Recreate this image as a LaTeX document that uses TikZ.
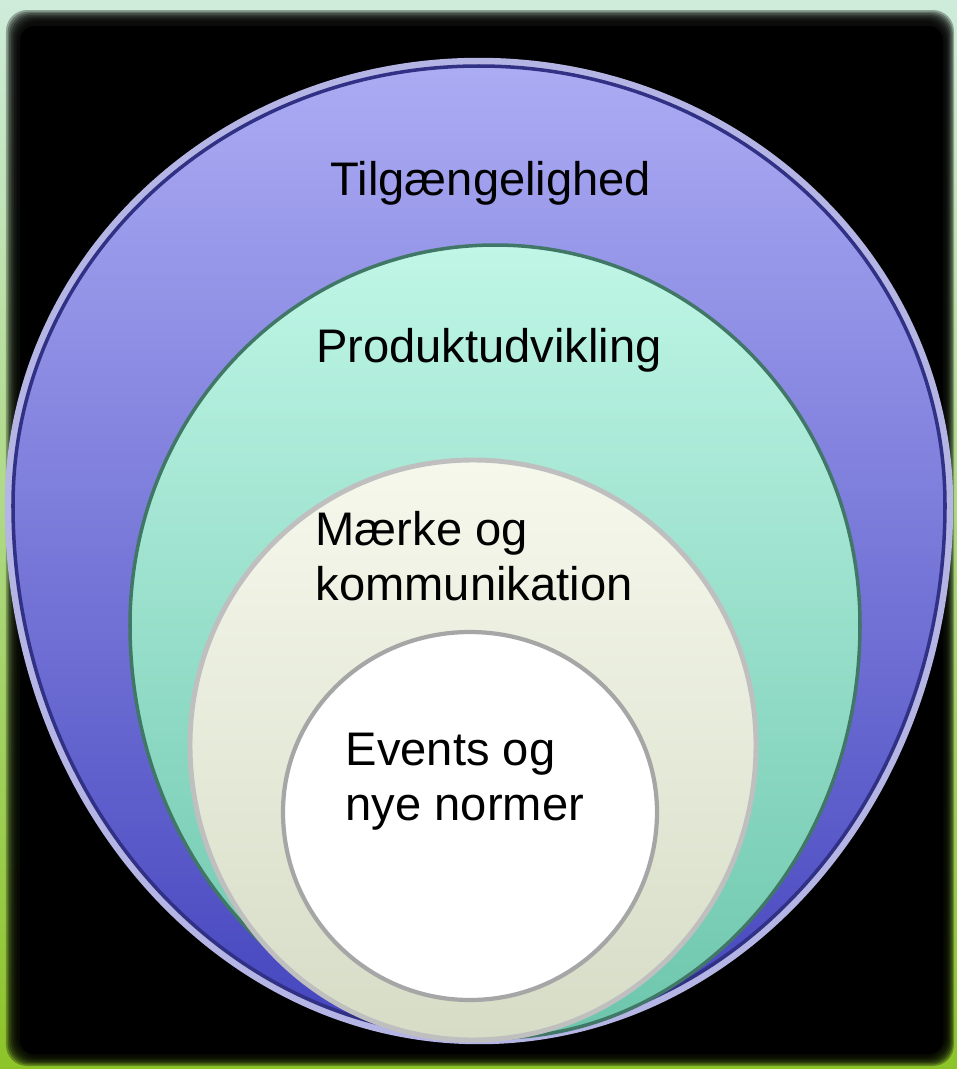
\documentclass[tikz,border=0pt]{standalone}
\usepackage{fontspec}
\setmainfont{Liberation Sans}
\definecolor{mintglow}{RGB}{206,236,218}
\definecolor{limeglow}{RGB}{140,196,40}
\definecolor{bluetop}{RGB}{172,172,244}
\definecolor{bluebot}{RGB}{68,68,190}
\definecolor{tealtop}{RGB}{192,246,230}
\definecolor{tealbot}{RGB}{108,198,172}
\definecolor{creamtop}{RGB}{246,248,236}
\definecolor{creambot}{RGB}{214,220,198}
% egg path: centre x, centre y, half width, top height, bottom height
\newcommand{\ringpath}[5]{(#1-#3,#2) arc[start angle=180, end angle=360, x radius=#3, y radius=#4]
  arc[start angle=0, end angle=180, x radius=#3, y radius=#5] -- cycle}
\begin{document}
\begin{tikzpicture}[x=0.01cm,y=-0.01cm,
  ringtext/.style={font=\fontsize{13.4}{15.6}\selectfont, align=left, inner sep=0pt}]
\useasboundingbox (0,0) rectangle (957,1069);
% frame
\shade[top color=mintglow, bottom color=limeglow] (0,0) rectangle (957,1069);
\foreach \i in {0,...,7}
  \fill[black, opacity=0.3, rounded corners=6] (6+1.6*\i,10+1.6*\i) rectangle (954-1.2*\i,1066-1.4*\i);
\fill[black, rounded corners=4] (20,26) rectangle (943,1054);
% outer ring
\shade[top color=bluetop, bottom color=bluebot] \ringpath{479}{505}{470}{443}{535};
\draw[white!60!bluebot, line width=2.4pt] \ringpath{479}{505}{470}{443}{535};
\draw[bluebot!70!black, line width=1pt] \ringpath{479}{505}{466}{439}{531};
% second ring
\shade[top color=tealtop, bottom color=tealbot] \ringpath{495}{625}{365}{380}{413};
\draw[tealbot!60!black, line width=1pt] \ringpath{495}{625}{365}{380}{413};
% third ring
\shade[top color=creamtop, bottom color=creambot] \ringpath{473}{745}{283}{285}{295};
\draw[black!25, line width=1.4pt] \ringpath{473}{745}{283}{285}{295};
% inner ring
\fill[white] \ringpath{470}{812}{187}{180}{188};
\draw[black!35, line width=1.2pt] \ringpath{470}{812}{187}{180}{188};
% texts
\node[ringtext] (tilg) at (491,183) {Tilgængelighed};
\node[ringtext] (prod) at (489,350) {Produktudvikling};
\node[ringtext, anchor=west] (maerke) at (315,556) {Mærke og\\kommunikation};
\node[ringtext, anchor=west] (events) at (345,782) {Events og\\nye normer};
\end{tikzpicture}
\end{document}
